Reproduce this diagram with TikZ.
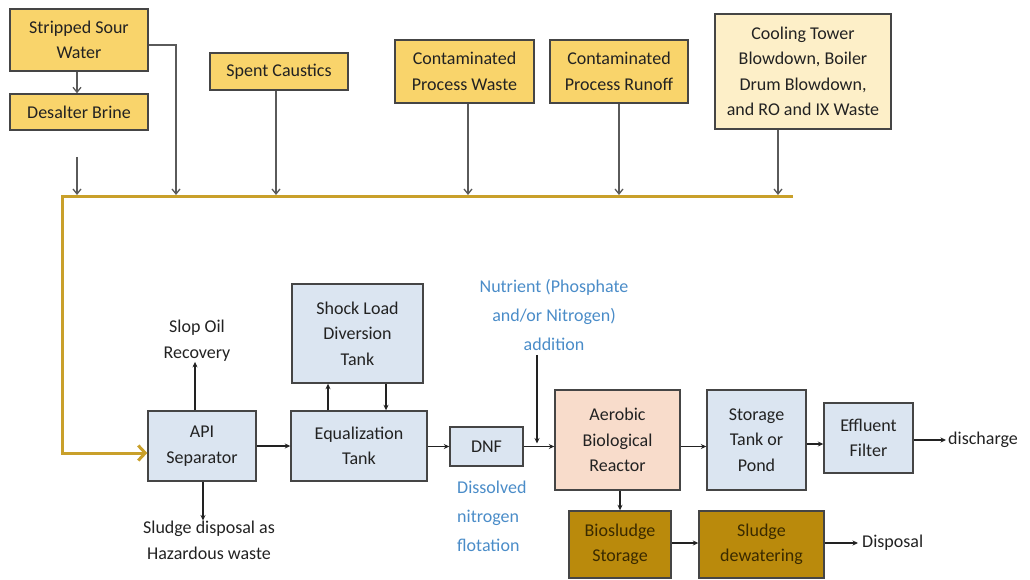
\documentclass[tikz,border=0pt]{standalone}
\usepackage{fontspec}
\setmainfont{Carlito}
\usetikzlibrary{arrows.meta}
\definecolor{ylw}{HTML}{F9D46B}
\definecolor{ylwl}{HTML}{FDEFC8}
\definecolor{blu}{HTML}{DBE5F1}
\definecolor{pch}{HTML}{F8DCCB}
\definecolor{dgold}{HTML}{BA8A0C}
\definecolor{hdrc}{HTML}{C9A02A}
\definecolor{bdr}{HTML}{454545}
\definecolor{txt}{HTML}{222222}
\definecolor{btxt}{HTML}{3A2A00}
\definecolor{ntxt}{HTML}{4A8CC8}
\definecolor{garr}{HTML}{5A5A5A}
\begin{document}
\begin{tikzpicture}[x=1pt,y=-1pt,
  box/.style={draw=bdr, line width=1.4pt, align=center, inner sep=0pt, text=txt,
    font=\fontsize{18}{25.5}\selectfont},
  ybox/.style={box, fill=ylw},
  bbox/.style={box, fill=blu},
  gbox/.style={box, fill=dgold, text=btxt},
  lbl/.style={align=center, inner sep=0pt, text=txt, font=\fontsize{18}{26}\selectfont},
  nlbl/.style={inner sep=0pt, text=ntxt, font=\fontsize{18}{29}\selectfont},
  tarr/.style={draw=garr, line width=1.3pt, -{Straight Barb[length=5pt,width=8pt]}},
  barr/.style={draw=txt, line width=1.3pt, -{Stealth[length=5.5pt,width=5pt]}},
  gline/.style={draw=hdrc, line width=3pt}
]
\useasboundingbox (0,0) rectangle (1030,580);

% top sources
\node[ybox, minimum width=138pt, minimum height=62pt] (ssw) at (79,40) {Stripped Sour\\Water};
\node[ybox, minimum width=138pt, minimum height=36pt] (db) at (79,112) {Desalter Brine};
\node[ybox, minimum width=138pt, minimum height=37pt] (sc) at (279,71.5) {Spent Caustics};
\node[ybox, minimum width=139pt, minimum height=63pt] (cpw) at (464.5,71.5) {Contaminated\\Process Waste};
\node[ybox, minimum width=138pt, minimum height=63pt] (cpr) at (619,71.5) {Contaminated\\Process Runoff};
\node[box, fill=ylwl, minimum width=176pt, minimum height=115pt] (ct) at (803,71.5) {Cooling Tower\\Blowdown, Boiler\\Drum Blowdown,\\and RO and IX Waste};

% header
\coordinate (hdrR) at (793,197);
\coordinate (hdrL) at (62,197);
\coordinate (hdrT) at (0,195);
\coordinate (dbs) at (77,157);
\coordinate (sswc) at (176,0);

% bottom process
\node[bbox, minimum width=108pt, minimum height=70pt] (api) at (202,446) {API\\Separator};
\node[bbox, minimum width=136pt, minimum height=70pt] (eq) at (359,446) {Equalization\\Tank};
\node[bbox, minimum width=131pt, minimum height=99pt] (shock) at (357.5,333.5) {Shock Load\\Diversion\\Tank};
\node[bbox, minimum width=73pt, minimum height=39pt] (dnf) at (486.5,446.5) {DNF};
\node[box, fill=pch, minimum width=125pt, minimum height=100pt] (aero) at (617.5,440) {Aerobic\\Biological\\Reactor};
\node[bbox, minimum width=99pt, minimum height=100pt] (stor) at (756.5,440) {Storage\\Tank or\\Pond};
\node[bbox, minimum width=89pt, minimum height=70pt] (eff) at (868.5,438) {Effluent\\Filter};
\node[gbox, minimum width=102pt, minimum height=67pt] (bio) at (620,544.5) {Biosludge\\Storage};
\node[gbox, minimum width=125pt, minimum height=67pt] (sdw) at (761.5,544.5) {Sludge\\dewatering};

% labels
\node[lbl] (slop) at (197,341) {Slop Oil\\Recovery};
\node[lbl] (haz) at (209,540) {Sludge disposal as\\Hazardous waste};
\node[nlbl, align=center] (nutr) at (554,315) {Nutrient (Phosphate\\and/or Nitrogen)\\addition};
\node[nlbl, align=left, anchor=west] (dnfl) at (457,516) {Dissolved\\nitrogen\\flotation};
\node[lbl, anchor=west] (dis) at (948,440) {discharge};
\node[lbl, anchor=west] (disp) at (862,543) {Disposal};

% header line and feed into API
\draw[gline, line join=miter, -{Straight Barb[length=7pt,width=15pt]}] (hdrR) -- (hdrL) |- ([yshift=-7pt]api.west);

% top arrows
\draw[tarr] (ssw.south -| dbs) -- (db.north -| dbs);
\draw[tarr] ([yshift=-5pt]ssw.east) -| (sswc |- hdrT);
\draw[tarr] (dbs) -- (dbs |- hdrT);
\draw[tarr] ([xshift=-3pt]sc.south) -- ([xshift=-3pt]sc.south |- hdrT);
\draw[tarr] ([xshift=3.5pt]cpw.south) -- ([xshift=3.5pt]cpw.south |- hdrT);
\draw[tarr] (cpr.south) -- (cpr.south |- hdrT);
\draw[tarr] ([xshift=-25pt]ct.south) -- ([xshift=-25pt]ct.south |- hdrT);

% bottom arrows
\draw[barr] ([xshift=-7pt]api.north) -- ([xshift=-7pt]api.north |- slop.south);
\draw[barr] ([xshift=1pt]api.south) -- ([xshift=1pt]api.south |- haz.north);
\draw[barr] (api.east) -- (eq.west);
\draw[barr] ([xshift=-31pt]eq.north) -- ([xshift=-31pt]eq.north |- shock.south);
\draw[barr] ([xshift=28.5pt]shock.south) -- ([xshift=28.5pt]shock.south |- eq.north);
\draw[barr] (eq.east |- dnf.west) -- (dnf.west);
\draw[barr] (dnf.east) -- (dnf.east -| aero.west);
\draw[barr] ([xshift=-17pt,yshift=-4pt]nutr.south) -- ([xshift=-17pt,yshift=3pt]nutr.south |- dnf.east);
\draw[barr] (dnf.east -| aero.east) -- (dnf.east -| stor.west);
\draw[barr] ([yshift=-6pt]stor.east |- eff.west) -- ([yshift=-6pt]eff.west);
\draw[barr] (eff.east |- dis.west) -- ([xshift=-2pt]dis.west);
\draw[barr] (aero.south -| bio.north) -- (bio.north);
\draw[barr] (bio.east |- disp.west) -- (sdw.west |- disp.west);
\draw[barr] (sdw.east |- disp.west) -- ([xshift=-4pt]disp.west);
\end{tikzpicture}
\end{document}
